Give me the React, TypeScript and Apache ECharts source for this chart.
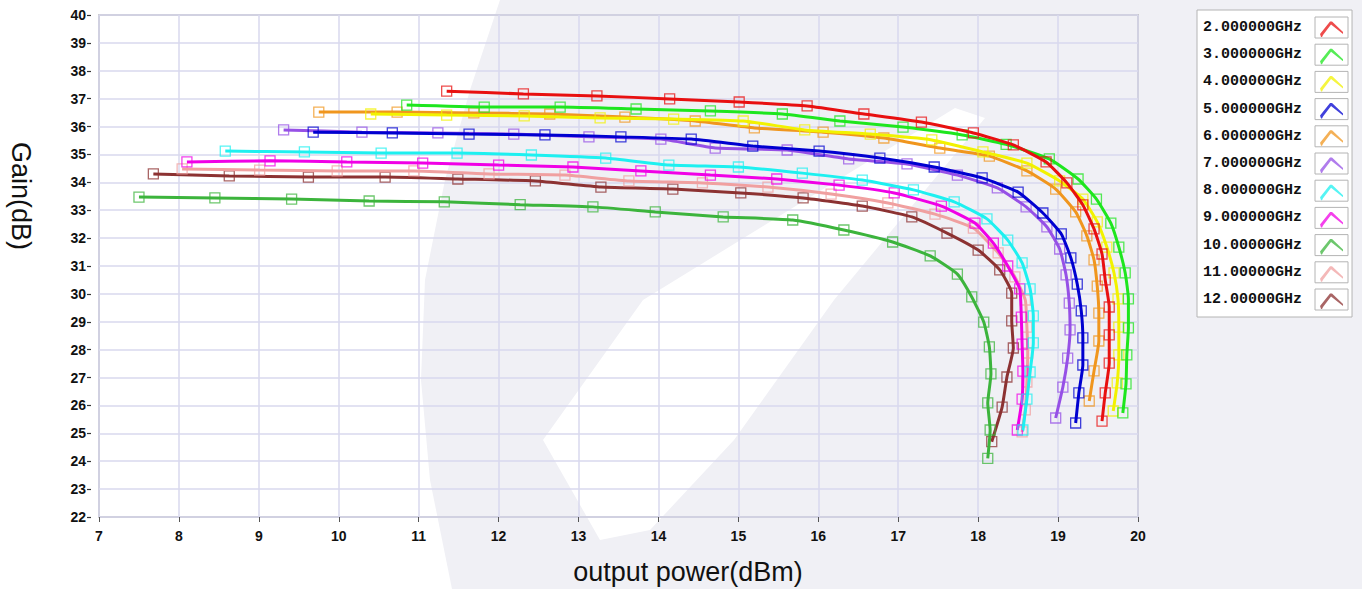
import React, { useEffect, useRef } from "react";
import * as echarts from "echarts";

const seriesNames = [
  "2.000000GHz", "3.000000GHz", "4.000000GHz", "5.000000GHz", "6.000000GHz", "7.000000GHz",
  "8.000000GHz", "9.000000GHz", "10.00000GHz", "11.00000GHz", "12.00000GHz",
];
const seriesColors = [
  "#e81010", "#1ee61e", "#f2f200", "#0000d0", "#f0961e", "#9650e6",
  "#1ef0f0", "#f000e6", "#3cb43c", "#f0a0a0", "#8c3232",
];

const f2 = [[11.35,37.27],[12.31,37.17],[13.23,37.10],[14.14,36.99],[15.01,36.88],[15.86,36.74],[16.57,36.45],[17.29,36.16],[17.94,35.77],[18.44,35.34],[18.85,34.73],[19.11,33.98],[19.31,33.19],[19.45,32.33],[19.55,31.43],[19.59,30.50],[19.64,29.53],[19.64,28.53],[19.64,27.52],[19.59,26.45],[19.55,25.44]];
const f3 = [[10.85,36.77],[11.82,36.70],[12.77,36.70],[13.72,36.63],[14.65,36.56],[15.55,36.45],[16.27,36.20],[17.06,35.98],[17.80,35.70],[18.35,35.36],[18.89,34.84],[19.25,34.12],[19.48,33.40],[19.66,32.54],[19.76,31.68],[19.84,30.75],[19.88,29.82],[19.88,28.78],[19.86,27.81],[19.85,26.77],[19.81,25.73]];
const f4 = [[10.40,36.45],[11.35,36.41],[12.32,36.38],[13.27,36.31],[14.19,36.27],[15.06,36.20],[15.83,35.88],[16.65,35.73],[17.42,35.52],[18.06,35.09],[18.61,34.69],[19.02,34.05],[19.31,33.40],[19.49,32.58],[19.61,31.68],[19.70,30.75],[19.75,29.82],[19.76,28.81],[19.76,27.81],[19.74,26.81],[19.69,25.80]];
const f5 = [[9.68,35.80],[10.67,35.77],[11.63,35.73],[12.58,35.70],[13.53,35.63],[14.41,35.55],[15.18,35.30],[16.01,35.12],[16.77,34.87],[17.45,34.55],[18.05,34.16],[18.50,33.65],[18.81,32.90],[19.04,32.15],[19.16,31.29],[19.24,30.35],[19.29,29.39],[19.31,28.42],[19.31,27.45],[19.26,26.45],[19.22,25.37]];
const f6 = [[9.75,36.52],[10.73,36.52],[11.69,36.49],[12.64,36.45],[13.58,36.34],[14.46,36.20],[15.20,35.95],[16.06,35.80],[16.82,35.59],[17.52,35.23],[18.14,34.94],[18.61,34.41],[18.97,33.76],[19.22,32.94],[19.36,32.08],[19.45,31.22],[19.49,30.28],[19.51,29.31],[19.51,28.31],[19.45,27.24],[19.39,26.16]];
const f7 = [[9.31,35.88],[10.29,35.80],[11.24,35.77],[12.19,35.73],[13.13,35.63],[14.03,35.55],[14.71,35.23],[15.61,35.16],[16.38,34.84],[17.11,34.66],[17.74,34.26],[18.24,33.80],[18.60,33.12],[18.86,32.40],[19.02,31.61],[19.10,30.68],[19.14,29.67],[19.15,28.71],[19.12,27.70],[19.06,26.66],[18.97,25.55]];
const f8 = [[8.58,35.12],[9.57,35.09],[10.53,35.05],[11.48,35.05],[12.41,34.98],[13.34,34.87],[14.13,34.62],[15.00,34.55],[15.80,34.33],[16.55,34.08],[17.19,33.73],[17.70,33.30],[18.11,32.69],[18.37,31.93],[18.55,31.11],[18.65,30.18],[18.69,29.21],[18.69,28.24],[18.65,27.20],[18.61,26.23],[18.56,25.12]];
const f9 = [[8.10,34.73],[9.14,34.77],[10.10,34.73],[11.05,34.69],[12.00,34.62],[12.93,34.55],[13.78,34.41],[14.65,34.26],[15.48,34.12],[16.26,33.90],[16.95,33.62],[17.54,33.15],[17.96,32.54],[18.19,31.82],[18.37,31.00],[18.52,30.18],[18.54,29.17],[18.55,28.20],[18.56,27.23],[18.55,26.23],[18.49,25.12]];
const f10 = [[7.50,33.47],[8.45,33.44],[9.41,33.40],[10.38,33.33],[11.32,33.30],[12.27,33.20],[13.18,33.12],[13.96,32.94],[14.81,32.76],[15.68,32.65],[16.32,32.29],[16.93,31.86],[17.40,31.36],[17.74,30.71],[17.92,29.89],[18.07,28.99],[18.14,28.10],[18.16,27.13],[18.12,26.09],[18.15,25.12],[18.12,24.10]];
const f11 = [[8.04,34.48],[9.01,34.44],[9.98,34.41],[10.94,34.41],[11.88,34.30],[12.83,34.26],[13.63,34.05],[14.55,33.98],[15.37,33.83],[16.16,33.58],[16.87,33.26],[17.46,32.86],[17.94,32.36],[18.25,31.47],[18.46,30.61],[18.59,29.78],[18.61,28.81],[18.62,27.88],[18.61,26.84],[18.59,25.84],[18.55,25.05]];
const f12 = [[7.68,34.30],[8.63,34.23],[9.62,34.19],[10.58,34.19],[11.49,34.12],[12.46,34.05],[13.28,33.83],[14.18,33.76],[15.03,33.62],[15.81,33.44],[16.55,33.15],[17.17,32.76],[17.61,32.18],[18.00,31.57],[18.27,30.86],[18.42,30.03],[18.42,29.03],[18.44,28.06],[18.36,27.02],[18.30,25.94],[18.17,24.70]];

const seriesData = [f2, f3, f4, f5, f6, f7, f8, f9, f10, f11, f12];

const xMin = 7, xMax = 20, xStep = 1;
const yMin = 22, yMax = 40, yStep = 1;
const xTitle = "output power(dBm)";
const yTitle = "Gain(dB)";

const WM = "#f0f0f5";
const legendIcon =
  "path://M0,0 L0.01,0 Z M33,21 L32.99,21 Z M5,17 L15,4.5 L17,4.5 L28,15 L28,17 L16,7.5 L8,18 L7,20 L6,20 Z";

export default function App() {
  const ref = useRef<HTMLDivElement>(null);
  useEffect(() => {
    const chart = echarts.init(ref.current!, null, { renderer: "svg" });
    const legendTop = 10, legendPadT = 7, itemH = 21, itemGap = 6.2;
    const frames = seriesNames.map((_, i) => ({
      type: "rect",
      z: 100,
      shape: { x: 1315, y: legendTop + legendPadT + i * (itemH + itemGap), width: 33, height: itemH },
      style: { fill: "none", stroke: "#b4b4b4", lineWidth: 1 },
      silent: true,
    }));
    const option: any = {
      animation: false,
      backgroundColor: "#ffffff",
      grid: { left: 99, top: 15, right: 224, bottom: 72, show: true, borderColor: "#a8a8a8", borderWidth: 1.5 },
      xAxis: {
        type: "value", min: xMin, max: xMax, interval: xStep,
        axisLine: { show: false },
        axisTick: { show: true, length: 5, lineStyle: { color: "#555", width: 1 } },
        axisLabel: { margin: 12, fontSize: 14, fontWeight: "bold", color: "#111", fontFamily: "Liberation Sans" },
        splitLine: { show: true, lineStyle: { color: "#d8d8ee", width: 1.5 } },
      },
      yAxis: {
        type: "value", min: yMin, max: yMax, interval: yStep, offset: 8,
        axisLine: { show: false },
        axisTick: { show: true, length: 4, lineStyle: { color: "#333", width: 1.2 } },
        axisLabel: { margin: 5, fontSize: 14, fontWeight: "bold", color: "#111", fontFamily: "Liberation Sans" },
        splitLine: { show: true, lineStyle: { color: "#d8d8ee", width: 1.5 } },
      },
      legend: {
        orient: "vertical", left: 1197, top: legendTop,
        padding: [legendPadT, 4, legendPadT, 6],
        itemWidth: 33, itemHeight: itemH, itemGap: itemGap,
        align: "right", icon: legendIcon,
        backgroundColor: "#ffffff", borderColor: "#b4b4b4", borderWidth: 1,
        textStyle: { fontFamily: "Liberation Mono", fontWeight: "bold", fontSize: 15, color: "#111", padding: [0, 8, 0, 0] },
        data: seriesNames.map((n, i) => ({ name: n, itemStyle: { color: seriesColors[i], borderWidth: 0 } })),
        selectedMode: false,
      },
      graphic: [
        {
          type: "polygon", z: -10, silent: true,
          shape: { points: [[500,0],[1362,0],[1362,589],[452,589],[430,480],[421,380],[425,280],[445,180],[470,90]] },
          style: { fill: WM },
        },
        {
          type: "polygon", z: -9, silent: true,
          shape: { points: [[955,108],[985,118],[834,300],[734,440],[650,530],[600,540],[543,440],[643,300]] },
          style: { fill: "#ffffff" },
        },
        {
          type: "text", z: 50, x: 688, y: 572,
          style: { text: xTitle, fontFamily: "Liberation Sans", fontSize: 27, fill: "#111", align: "center", verticalAlign: "middle" },
        },
        {
          type: "text", z: 50, x: 21, y: 196, rotation: -Math.PI / 2,
          style: { text: yTitle, fontFamily: "Liberation Sans", fontSize: 27, fill: "#111", align: "center", verticalAlign: "middle" },
        },
        ...frames,
      ],
      series: seriesData.map((d, i) => ({
        name: seriesNames[i],
        type: "line",
        data: d,
        smooth: 0.15,
        symbol: "rect",
        symbolSize: 10,
        showAllSymbol: true,
        lineStyle: { color: seriesColors[i], width: 3 },
        itemStyle: { color: "rgba(0,0,0,0)", borderColor: seriesColors[i], borderWidth: 1.3, opacity: 0.75 },
        emphasis: { disabled: true },
        z: 2 + (seriesData.length - i) * 0.01,
      })),
    };
    chart.setOption(option);
    return () => chart.dispose();
  }, []);
  return <div ref={ref} style={{ position: "fixed", left: 0, top: 0, width: 1362, height: 589 }} />;
}
